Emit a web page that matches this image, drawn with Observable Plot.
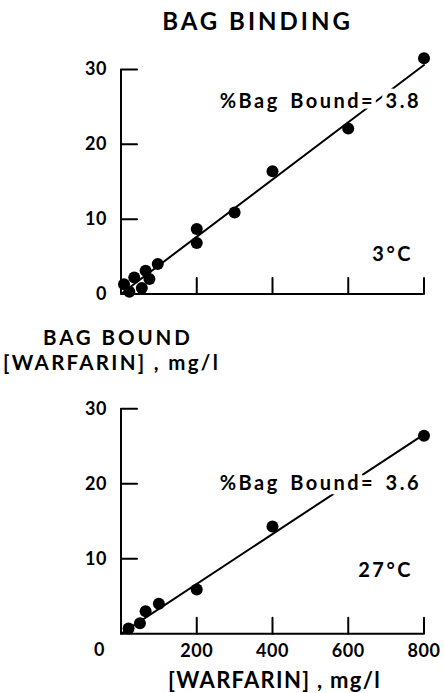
<!DOCTYPE html>
<html><head><meta charset="utf-8">
<script src="https://cdn.jsdelivr.net/npm/d3@7"></script>
<script src="https://cdn.jsdelivr.net/npm/@observablehq/plot@0.6"></script>
<style>
body{margin:0;background:#fff;}
#wrap{position:relative;width:444px;height:693px;overflow:hidden;font-family:Lato,sans-serif;font-weight:700;color:#000;}
.lab{position:absolute;white-space:nowrap;line-height:1;}
.panel{position:absolute;left:0;}
.panel svg text{font-family:Lato,sans-serif;font-weight:700;}
.panel g[aria-label="text"] text{letter-spacing:2.5px;word-spacing:3px;}
.panel g[aria-label$="tick label"] text{letter-spacing:0.5px;}
</style></head><body>
<div id="wrap">
  <div class="lab" id="title" style="left:257.5px;top:8.7px;transform:translateX(-50%);font-size:24px;letter-spacing:3px;">BAG BINDING</div>
  <div class="lab" id="ylabel" style="left:3px;top:324.8px;font-size:20.5px;line-height:25px;"><span style="margin-left:40px;letter-spacing:2.9px;">BAG BOUND</span><br><span style="letter-spacing:2.3px;">[WARFARIN] , mg/l</span></div>
  <div class="lab" style="left:168px;top:668.5px;font-size:22px;letter-spacing:1.3px;">[WARFARIN] , mg/l</div>
  <div class="panel" id="top" style="top:40px;"></div>
  <div class="panel" id="bottom" style="top:390px;"></div>
</div>
<script>
// ---- data ----
const xTicks = [200, 400, 600, 800];
const yTicks = [0, 10, 20, 30];
const coldX = [8, 22, 35, 55, 65, 75, 97, 200, 200, 300, 400, 600, 800];
const coldY = [1.3, 0.3, 2.2, 0.8, 3.1, 2.0, 4.0, 8.7, 6.8, 10.9, 16.4, 22.1, 31.5];
const coldFitX = [0, 800];
const coldFitY = [0, 30.6];
const warmX = [20, 50, 65, 100, 200, 400, 800];
const warmY = [0.7, 1.4, 3.0, 4.0, 5.9, 14.3, 26.4];
const warmFitX = [0, 800];
const warmFitY = [0, 26.6];
const coldLabel = "%Bag Bound= 3.8";
const coldTemp = "3°C";
const warmLabel = "%Bag Bound= 3.6";
const warmTemp = "27°C";

const tickShape = {draw(ctx, l) { ctx.moveTo(0, 0); ctx.lineTo(0, -l); }};

function panel({xs, ys, fx, fy, label, labelDy, temp, tempDy, height, marginTop, marginBottom, xLabels}) {
  const pts = xs.map((x, i) => ({x, y: ys[i]}));
  const fit = fx.map((x, i) => ({x, y: fy[i]}));
  const marks = [
    Plot.ruleX([0], {y1: 0, y2: d3.max(yTicks), stroke: "black", strokeWidth: 2}),
    Plot.ruleY([0], {x1: 0, x2: d3.max(xTicks), stroke: "black", strokeWidth: 2}),
    Plot.vector(xTicks, {x: d => d, y: 0, length: 16, rotate: 0, anchor: "start", shape: tickShape, stroke: "black", strokeWidth: 2}),
    Plot.vector(yTicks.filter(d => d > 0), {x: 0, y: d => d, length: 16, rotate: 90, anchor: "start", shape: tickShape, stroke: "black", strokeWidth: 2}),
    Plot.line(fit, {x: "x", y: "y", stroke: "black", strokeWidth: 2}),
    Plot.text([label], {text: d => d, frameAnchor: "top-right", textAnchor: "end", lineAnchor: "bottom", dx: -3, dy: labelDy, fontSize: 20, fill: "black", stroke: "white", strokeWidth: 9}),
    Plot.text([temp], {text: d => d, frameAnchor: "top-right", textAnchor: "end", lineAnchor: "bottom", dx: -11, dy: tempDy, fontSize: 20, fill: "black"}),
    Plot.dot(pts, {x: "x", y: "y", r: 6, fill: "black", stroke: "none"}),
    Plot.axisY(yTicks.filter(d => xLabels ? d > 0 : true), {tickSize: 0, tickPadding: 14, fontSize: 18, label: null})
  ];
  if (xLabels) {
    marks.push(Plot.axisX(xTicks, {tickSize: 0, tickPadding: 10, fontSize: 18, label: null}));
    marks.push(Plot.text([0], {x: d => d, y: 0, text: d => String(d), textAnchor: "end", dx: -14, dy: 16.5, fontSize: 18, fill: "black"}));
  }
  return Plot.plot({
    width: 444, height,
    marginLeft: 120.5, marginRight: 20.5, marginTop, marginBottom,
    x: {domain: [0, 800], axis: null},
    y: {domain: [0, 30], axis: null},
    style: {background: "white", color: "black", overflow: "visible", fontFamily: "Lato, sans-serif"},
    marks
  });
}

document.getElementById("top").appendChild(panel({
  xs: coldX, ys: coldY, fx: coldFitX, fy: coldFitY,
  label: coldLabel, labelDy: 38, temp: coldTemp, tempDy: 191,
  height: 270, marginTop: 29, marginBottom: 16.5, xLabels: false
}));
document.getElementById("bottom").appendChild(panel({
  xs: warmX, ys: warmY, fx: warmFitX, fy: warmFitY,
  label: warmLabel, labelDy: 80.7, temp: warmTemp, tempDy: 167.7,
  height: 280, marginTop: 18.3, marginBottom: 36.7, xLabels: true
}));
</script>
</body></html>
